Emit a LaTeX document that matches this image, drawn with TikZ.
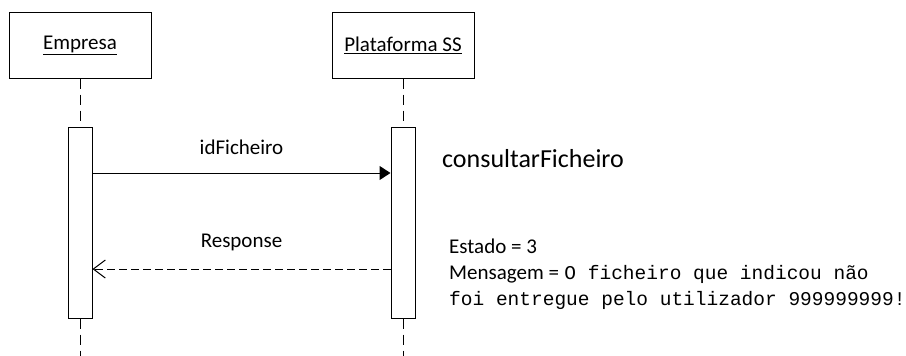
\documentclass[tikz,border=0pt]{standalone}
\usepackage{fontspec}
\setmainfont{Carlito}
\newfontfamily\monofont{Liberation Mono}
\usetikzlibrary{positioning,arrows.meta}

\begin{document}
\begin{tikzpicture}[x=1pt,y=-1pt,
        every node/.style = {font=\fontsize{21}{26}\selectfont},
        objbox/.style = {draw, line width=1pt, minimum width=142pt, minimum height=66pt, inner sep=0pt},
        actbar/.style = {draw, fill=white, line width=1pt, minimum width=24pt, minimum height=191pt, inner sep=0pt},
        lifeline/.style = {line width=1pt, dash pattern=on 10pt off 6pt},
        call/.style = {line width=1pt, -{Triangle[length=11pt,width=14pt]}},
        reply/.style = {line width=1pt, dash pattern=on 8pt off 4pt, -{Straight Barb[length=12pt,width=18pt]}},
        msglabel/.style = {anchor=base, inner sep=0pt},
        note/.style = {anchor=base west, inner sep=0pt},
        monotext/.style = {note, font=\monofont\fontsize{19.5}{26}\selectfont}]
        \useasboundingbox (0,0) rectangle (906,356);

        % objects
        \node[objbox] (empresa) at (80,45) {\underline{Empresa}};
        \node[objbox, right = 180pt of empresa] (plataforma) {\underline{Plataforma SS}};

        % activations
        \node[actbar, below = 48pt of empresa] (actEmpresa) {};
        \node[actbar, below = 48pt of plataforma] (actPlataforma) {};

        \coordinate (bottom) at (0,356);
        \coordinate (callY) at (0,173);
        \coordinate (replyY) at (0,269);

        % lifelines
        \draw[lifeline] (empresa.south) -- (actEmpresa.north);
        \draw[lifeline] (actEmpresa.south) -- (actEmpresa.south |- bottom);
        \draw[lifeline] (plataforma.south) -- (actPlataforma.north);
        \draw[lifeline] (actPlataforma.south) -- (actPlataforma.south |- bottom);

        % messages
        \draw[call] (actEmpresa.east |- callY) -- node[msglabel, yshift=19pt] (idLabel) {idFicheiro} (actPlataforma.west |- callY);
        \draw[reply] (actPlataforma.west |- replyY) -- node[msglabel, yshift=22pt] (respLabel) {Response} (actEmpresa.east |- replyY);

        % notes
        \node[note, font=\fontsize{26}{31}\selectfont] (consultar) at (442,167) {consultarFicheiro};
        \node[note] (estado) at (449,253) {Estado = 3};
        \node[note] (mensagem) at (449,279) {Mensagem =};
        \node[monotext, right = 5pt of mensagem.base east, anchor=base west] (msgLine1) {O ficheiro que indicou não};
        \node[monotext] (msgLine2) at (449,305) {foi entregue pelo utilizador 999999999!};
\end{tikzpicture}
\end{document}
